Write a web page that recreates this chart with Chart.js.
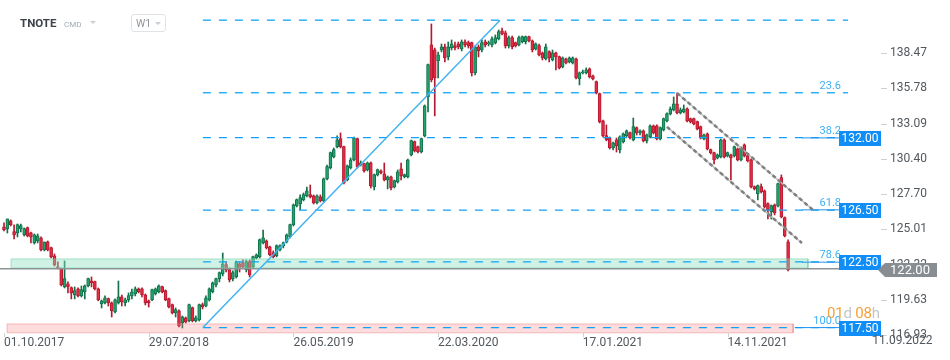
<!DOCTYPE html>
<html>
<head>
<meta charset="utf-8">
<script src="https://cdn.jsdelivr.net/npm/chart.js@4.4.1/dist/chart.umd.min.js"></script>
<style>
  html, body { margin: 0; padding: 0; background: #fff; }
  #wrap { position: relative; width: 950px; height: 360px; font-family: Roboto, sans-serif; }
  #chart { position: absolute; left: 0; top: 0; }
  .sym { position: absolute; left: 20px; top: 16px; font: bold 11.5px Roboto; color: #3b4249; }
  .cmd { position: absolute; left: 64px; top: 20px; font: 8px Roboto; color: #a2aab1; }
  .caret { position: absolute; width: 0; height: 0; border-left: 3.5px solid transparent; border-right: 3.5px solid transparent; border-top: 3.5px solid #c9ced3; }
  .tf { position: absolute; left: 131px; top: 14px; width: 33px; height: 16px; border: 1px solid #dfe3e6; border-radius: 3px; }
  .tf span { position: absolute; left: 4px; top: 2px; font: 10.5px Roboto; color: #8d959c; }
  .count { position: absolute; left: 827px; top: 304px; font: 15px Roboto; letter-spacing: -0.2px; }
  .count .o { color: #f7a13a; }
  .count .g { color: #c3c6c9; }
</style>
</head>
<body>
<div id="wrap">
  <canvas id="chart" width="950" height="360"></canvas>
  <div class="sym">TNOTE</div>
  <div class="cmd">CMD</div>
  <div class="caret" style="left:90px;top:21px"></div>
  <div class="tf"><span>W1</span><div class="caret" style="left:23px;top:7px"></div></div>
  <div class="count"><span class="o">01</span><span class="g">d</span> <span class="o">08</span><span class="g">h</span></div>
</div>
<script>
// weekly candles, first bar = week of 01.10.2017
const opens = [
  125.19,125.04,125.65,124.81,124.73,125.04,124.58,125.12,124.73,123.97,
  124.12,124.35,123.43,124.04,123.59,122.97,122.13,121.98,120.61,120.83,
  120.53,119.99,120.45,119.92,120.22,120.68,121.06,120.99,120.45,119.30,
  119.38,119.69,119.38,118.69,119.38,119.84,119.38,119.61,119.92,120.07,
  120.45,120.45,119.99,119.53,119.61,120.07,120.22,120.61,120.30,119.69,
  119.23,118.62,118.77,117.85,118.23,118.00,119.00,118.00,118.08,119.23,
  119.15,119.61,120.22,120.76,121.22,121.60,122.29,121.91,121.22,121.37,
  122.36,122.44,121.91,122.52,122.13,122.82,122.90,123.97,124.12,123.66,
  123.20,122.97,123.43,123.74,124.04,124.43,125.35,126.80,126.95,127.26,
  127.56,127.64,127.56,127.03,127.48,127.18,128.86,129.70,130.54,131.31,
  131.92,131.31,128.78,129.70,130.31,131.92,129.93,130.01,129.55,130.08,
  128.25,129.17,129.47,129.24,128.78,129.01,128.25,128.63,129.62,129.01,
  129.01,130.69,131.69,131.31,130.92,132.15,135.13,139.10,138.72,137.88,
  138.72,138.95,138.19,138.87,139.03,139.18,138.80,139.33,139.26,139.26,
  136.96,138.95,138.72,139.33,139.18,139.10,139.26,139.56,140.17,140.02,
  139.03,139.64,139.26,139.10,139.33,139.33,139.72,139.41,138.80,139.03,
  138.49,138.03,138.57,137.96,138.49,138.19,137.42,138.03,137.81,137.73,
  138.03,136.51,136.96,136.96,137.27,136.73,136.28,135.36,133.29,132.15,
  131.99,131.23,131.84,131.08,131.69,132.15,132.38,131.84,132.76,132.38,
  132.53,131.77,132.07,132.91,132.91,131.92,132.61,133.29,133.83,134.13,
  134.59,133.91,133.98,134.21,133.45,133.45,133.22,132.84,131.92,132.30,
  131.08,130.85,130.47,130.54,131.84,130.62,130.69,130.62,131.15,130.31,
  131.46,130.62,130.31,128.25,127.71,128.25,127.94,126.95,126.34,126.87,
  126.80,128.94,125.88,124.04
];
const highs = [
  125.50,125.80,125.73,125.35,125.42,125.42,125.12,125.19,124.81,124.66,
  124.66,124.43,124.04,124.12,123.66,123.13,122.52,122.06,122.59,120.99,
  120.61,120.61,120.53,120.68,120.76,121.29,121.37,121.06,120.53,119.61,
  119.92,119.76,119.46,119.69,121.06,119.99,119.76,120.15,120.45,120.61,
  120.53,120.53,120.07,119.61,120.45,120.53,120.76,120.68,120.38,119.76,
  119.30,119.00,118.85,118.39,118.31,119.30,119.07,118.39,119.30,119.38,
  119.92,120.53,120.99,121.29,121.75,123.20,122.52,122.06,121.83,122.59,
  122.52,122.67,122.67,122.67,122.97,123.13,124.27,124.96,124.20,123.74,
  123.36,123.82,123.82,124.04,124.66,125.42,126.95,127.33,127.64,127.79,
  128.25,128.40,127.64,127.64,127.64,128.94,129.93,130.92,131.23,132.15,
  132.38,131.38,129.93,130.47,132.07,131.99,130.24,130.08,130.16,130.16,
  129.24,129.62,129.55,130.08,129.09,129.09,128.78,129.55,130.08,129.24,
  130.39,131.84,131.77,131.38,131.99,134.52,137.65,140.71,138.87,138.57,
  139.18,139.18,139.33,139.49,139.33,139.33,139.49,139.49,139.41,139.33,
  139.03,139.10,139.49,139.49,139.41,139.72,139.87,140.25,140.40,140.17,
  139.79,139.79,139.33,139.79,139.79,139.79,139.79,139.49,139.26,139.18,
  138.57,139.18,138.65,138.72,138.57,138.26,138.19,138.11,138.19,138.19,
  138.11,137.04,137.19,137.35,137.35,136.81,136.35,135.43,133.37,132.99,
  132.07,131.69,131.99,132.15,132.38,132.61,132.45,133.52,132.84,132.61,
  132.61,132.30,132.99,132.99,132.99,132.84,133.52,133.91,134.37,135.13,
  135.43,134.29,134.52,134.29,133.52,133.52,133.29,132.91,132.30,132.38,
  131.15,130.92,130.77,131.92,131.92,130.92,130.77,131.38,131.23,131.31,
  131.54,130.69,130.39,128.33,128.40,128.48,128.02,127.03,126.87,126.95,
  128.55,129.17,125.96,124.20
];
const lows = [
  124.89,124.73,125.27,124.27,124.43,124.81,124.50,124.43,123.97,123.89,
  123.97,123.36,123.36,123.36,122.82,122.21,121.98,120.68,120.53,120.15,
  119.69,119.69,119.84,119.84,119.69,120.61,120.61,120.38,119.55,119.00,
  119.30,119.15,118.31,118.62,119.30,119.15,119.15,119.46,119.69,119.92,
  120.15,119.84,119.23,119.07,119.55,119.99,120.15,120.15,119.55,119.00,
  118.54,118.31,117.55,117.47,117.85,117.93,117.93,117.93,118.00,118.92,
  119.07,119.53,120.15,120.61,120.99,121.45,121.75,120.99,121.06,121.29,
  121.75,122.06,121.75,121.37,122.06,122.75,122.82,123.89,123.51,122.97,
  122.82,122.90,123.36,123.59,123.97,124.35,125.27,126.72,126.49,127.18,
  127.48,127.41,126.95,126.95,127.10,127.10,128.78,129.62,130.47,131.23,
  131.23,128.48,128.71,129.62,130.24,129.70,129.85,129.39,129.47,128.17,
  128.02,129.09,129.24,128.71,128.10,128.02,128.17,128.55,128.78,128.94,
  128.94,130.62,130.92,130.85,130.85,132.07,133.98,136.28,133.68,136.58,
  138.57,137.81,137.96,138.72,138.72,138.80,138.65,138.95,138.87,136.73,
  136.81,138.19,138.57,138.95,139.03,138.95,139.18,139.49,139.87,138.87,
  138.87,138.80,138.95,139.03,139.26,139.18,139.33,138.57,138.72,138.26,
  137.96,137.96,137.81,137.88,137.19,137.27,137.35,137.65,137.73,137.65,
  136.51,136.05,136.89,136.89,136.58,136.43,135.36,133.14,132.07,131.77,
  131.15,131.08,130.92,130.85,131.61,132.07,131.92,131.77,132.22,132.22,
  131.69,131.61,131.99,132.30,131.84,131.84,132.53,133.22,133.75,134.06,
  133.83,133.83,133.91,133.22,133.14,132.99,132.61,131.92,131.84,131.08,
  130.77,130.01,130.39,130.47,130.47,130.54,128.78,130.54,130.24,130.24,
  130.54,130.16,128.17,128.02,127.26,127.79,126.64,125.80,125.80,126.11,
  126.72,125.88,124.43,121.83
];
const closes = [
  124.96,125.80,125.35,124.58,125.35,125.27,125.04,124.50,124.43,124.58,
  124.50,123.43,124.04,123.43,122.90,122.29,122.06,120.76,121.22,120.61,
  120.15,120.30,119.92,120.38,120.68,121.22,120.91,120.45,119.61,119.53,
  119.76,119.38,118.77,119.61,119.84,119.46,119.61,119.92,120.22,120.45,
  120.22,119.99,119.38,119.38,120.38,120.45,120.68,120.22,119.61,119.07,
  118.62,118.85,117.62,118.31,117.93,119.23,118.00,118.23,119.23,119.07,
  119.76,120.45,120.91,121.22,121.68,122.36,121.91,121.14,121.68,122.44,
  121.98,122.13,122.52,121.52,122.90,123.05,124.20,124.35,123.59,123.05,
  122.90,123.74,123.74,123.97,124.58,125.35,126.87,127.26,127.41,127.64,
  127.94,127.48,127.03,127.56,127.18,128.86,129.78,130.85,131.08,131.84,
  131.31,128.55,129.85,130.31,131.99,129.78,130.08,129.47,130.08,128.33,
  129.17,129.55,129.32,128.78,129.01,128.17,128.71,129.39,129.09,129.17,
  130.31,131.77,131.00,130.92,131.92,134.44,137.58,136.43,136.58,138.34,
  138.95,138.11,138.95,139.18,138.87,138.95,139.33,139.10,139.03,136.96,
  138.95,138.65,139.26,139.10,139.26,139.56,139.64,140.10,139.95,139.03,
  139.64,138.95,139.03,139.64,139.72,139.72,139.41,138.72,139.18,138.34,
  138.11,138.95,138.11,138.49,138.19,137.35,138.11,137.73,138.11,138.11,
  136.58,136.96,137.04,137.19,136.66,136.51,135.43,133.22,132.15,131.84,
  131.23,131.61,131.38,132.07,132.30,132.53,131.99,132.84,132.38,132.53,
  131.77,132.22,132.91,132.38,131.92,132.76,133.45,133.83,134.21,134.59,
  133.91,134.13,134.21,133.29,133.22,133.07,132.68,131.99,132.22,131.15,
  130.85,130.31,130.69,131.84,130.54,130.85,130.47,131.31,130.31,131.23,
  130.62,130.24,128.25,128.10,128.33,127.87,126.72,126.49,126.80,126.26,
  128.48,125.96,124.50,121.91
];

// axes
const yTicks = [116.93, 119.63, 122.32, 125.01, 127.70, 130.40, 133.09, 135.78, 138.47];
const tickWeeks = [0, 43, 86, 129, 172, 215, 258];
const tickDates = ['01.10.2017', '29.07.2018', '26.05.2019', '22.03.2020', '17.01.2021', '14.11.2021', '11.09.2022'];
const weekMin = -1.19, weekMax = 250.8;
const priceMin = 116.78, priceMax = 142.16;

// drawings
const fibNames = ['0.0', '23.6', '38.2', '61.8', '78.6', '100.0'];
const fibPrices = [141.00, 135.45, 132.02, 126.48, 122.53, 117.50];
const fibFromWeek = 59.1;
const boxPrices = [132.00, 126.50, 122.50, 117.50];
const boxFromWeek = [237.1, 237.1, 237.1, 235.0];
const lastPrice = 122.00;
const trendLine = [{ x: 59.1, y: 117.5 }, { x: 147.4, y: 141.0 }];
const channelTop = [{ x: 200.0, y: 135.43 }, { x: 240.4, y: 126.49 }];
const channelBottom = [{ x: 197.0, y: 132.84 }, { x: 237.1, y: 123.97 }];
const greenZone = { weeks: [2.1, 238.9], prices: [122.05, 122.75] };
const redZone = { weeks: [0.9, 234.5], prices: [117.10, 117.78] };

const weeks = opens.map((_, i) => i);
const up = weeks.map(i => closes[i] >= opens[i]);
const UP_FILL = '#22a36f', UP_LINE = '#12714a';
const DN_FILL = '#e62b43', DN_LINE = '#b41a2f';

function seg(points, color, width, dash, order, extra) {
  return Object.assign({
    type: 'line', data: points, borderColor: color, borderWidth: width,
    borderDash: dash || [], pointRadius: 0, fill: false, tension: 0, order: order
  }, extra || {});
}

function zone(z, fill, line) {
  const [x0, x1] = z.weeks, [lo, hi] = z.prices;
  return [
    seg([{ x: x0, y: hi }, { x: x1, y: hi }], 'transparent', 0, null, 10,
      { fill: { value: lo }, backgroundColor: fill }),
    seg([{ x: x0, y: hi }, { x: x1, y: hi }, { x: x1, y: lo }, { x: x0, y: lo }, { x: x0, y: hi }],
      line, 1, null, 9)
  ];
}

const datasets = [
  {
    type: 'bar', order: 20, grouped: false, barThickness: 1,
    data: weeks.map(i => ({ x: i, y: [lows[i], highs[i]] })),
    backgroundColor: weeks.map(i => up[i] ? UP_LINE : DN_LINE)
  },
  {
    type: 'bar', order: 19, grouped: false, barThickness: 3, borderWidth: 1, borderSkipped: false,
    data: weeks.map(i => ({ x: i, y: [Math.min(opens[i], closes[i]), Math.max(opens[i], closes[i]) + 0.02] })),
    backgroundColor: weeks.map(i => up[i] ? UP_FILL : DN_FILL),
    borderColor: weeks.map(i => up[i] ? UP_LINE : DN_LINE)
  },
  ...zone(greenZone, 'rgba(140,225,190,0.42)', 'rgba(110,205,160,0.55)'),
  ...zone(redZone, 'rgba(245,130,130,0.28)', 'rgba(240,120,120,0.45)'),
  seg([{ x: -2, y: lastPrice }, { x: 259.7, y: lastPrice }], '#8e9397', 1.5, null, 6, { clip: false }),
  ...fibPrices.map(p => seg([{ x: fibFromWeek, y: p }, { x: weekMax, y: p }], '#12a4f4', 1.3, [8, 8], 4)),
  ...boxPrices.map((p, k) => seg([{ x: boxFromWeek[k], y: p }, { x: weekMax, y: p }], '#1e93f0', 1, null, 3)),
  seg(trendLine, '#42b3f0', 1.5, null, 2),
  seg(channelTop, '#bdbdbd', 1.5, null, 2),
  seg(channelBottom, '#bdbdbd', 1.5, null, 2),
  seg(channelTop, '#7f7f7f', 2.5, [4, 3], 1),
  seg(channelBottom, '#7f7f7f', 2.5, [4, 3], 1)
];

const overlay = {
  id: 'overlay',
  afterDraw(chart) {
    const { ctx, chartArea, scales: { x, y } } = chart;
    ctx.save();
    // small tick marks on both axes
    ctx.strokeStyle = '#cdd1d4';
    ctx.lineWidth = 1;
    yTicks.forEach(v => {
      const py = Math.round(y.getPixelForValue(v)) + 0.5;
      ctx.beginPath(); ctx.moveTo(chartArea.right + 33, py); ctx.lineTo(chartArea.right + 39, py); ctx.stroke();
    });
    tickWeeks.forEach(w => {
      const px = Math.round(x.getPixelForValue(w)) + 0.5;
      ctx.beginPath(); ctx.moveTo(px, chartArea.bottom - 4); ctx.lineTo(px, chartArea.bottom); ctx.stroke();
    });
    // fib ratio labels
    ctx.font = '11px Roboto';
    ctx.fillStyle = '#3cb0f2';
    ctx.textAlign = 'right';
    ctx.textBaseline = 'alphabetic';
    fibNames.forEach((n, k) => {
      if (k === 0) return;
      ctx.fillText(n, chartArea.right - 7, y.getPixelForValue(fibPrices[k]) - 4);
    });
    // price boxes
    ctx.font = '12px Roboto';
    ctx.textAlign = 'center';
    ctx.textBaseline = 'middle';
    boxPrices.forEach(p => {
      const py = Math.round(y.getPixelForValue(p));
      ctx.fillStyle = '#108ef5';
      ctx.fillRect(chartArea.right - 9, py - 7, 42, 15);
      ctx.fillStyle = '#ffffff';
      ctx.fillText(p.toFixed(2), chartArea.right + 12, py + 1);
    });
    // last price tag
    const ly = Math.round(y.getPixelForValue(lastPrice)) + 1;
    const l0 = chartArea.right + 30, l1 = chartArea.right + 89;
    ctx.fillStyle = '#878d92';
    ctx.beginPath();
    ctx.moveTo(l0, ly); ctx.lineTo(l0 + 7, ly - 7); ctx.lineTo(l1, ly - 7);
    ctx.lineTo(l1, ly + 7); ctx.lineTo(l0 + 7, ly + 7); ctx.closePath(); ctx.fill();
    ctx.fillStyle = '#ffffff';
    ctx.font = '13px Roboto';
    ctx.fillText(lastPrice.toFixed(2), l0 + 32, ly + 1);
    // last date label (past the plotted range)
    ctx.font = '12px Roboto';
    ctx.fillStyle = '#51585e';
    ctx.textAlign = 'left';
    ctx.textBaseline = 'top';
    const k = tickWeeks.length - 1;
    ctx.fillText(tickDates[k], x.getPixelForValue(tickWeeks[k]), x.top - 2);
    ctx.restore();
  }
};

new Chart(document.getElementById('chart'), {
  type: 'bar',
  data: { datasets },
  options: {
    responsive: false,
    animation: false,
    events: [],
    layout: { autoPadding: false, padding: { top: 5, left: 0, right: 0, bottom: 0 } },
    plugins: { legend: { display: false }, tooltip: { enabled: false } },
    scales: {
      x: {
        type: 'linear', min: weekMin, max: weekMax, offset: false,
        afterFit: s => { s.height = 23; s.paddingLeft = 0; s.paddingRight = 0; },
        afterBuildTicks: s => { s.ticks = tickWeeks.filter(w => w <= weekMax).map(w => ({ value: w })); },
        grid: { display: false, offset: false },
        border: { display: false },
        ticks: {
          autoSkip: false, maxRotation: 0, align: 'start', padding: -9,
          color: '#51585e', font: { family: 'Roboto', size: 12 },
          callback: v => tickDates[tickWeeks.indexOf(v)]
        }
      },
      y: {
        type: 'linear', position: 'right', min: priceMin, max: priceMax,
        afterFit: s => { s.width = 102; s.paddingTop = 0; s.paddingBottom = 0; },
        afterBuildTicks: s => { s.ticks = yTicks.map(v => ({ value: v })); },
        grid: { display: true, drawOnChartArea: false, drawTicks: true, tickLength: 39, color: 'transparent' },
        border: { display: false },
        ticks: {
          padding: 3, color: '#51585e', font: { family: 'Roboto', size: 12 },
          callback: v => v.toFixed(2)
        }
      }
    }
  },
  plugins: [overlay]
});
</script>
</body>
</html>
